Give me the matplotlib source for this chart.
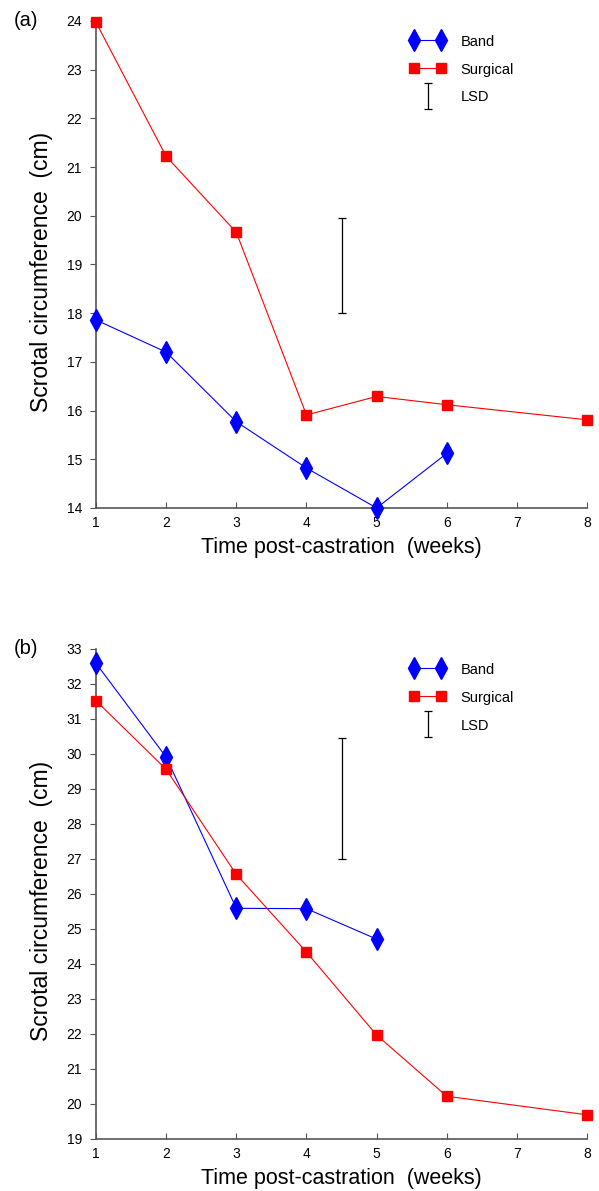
import matplotlib
matplotlib.use("Agg")
import matplotlib.pyplot as plt
from matplotlib.lines import Line2D
from matplotlib.legend_handler import HandlerErrorbar

plt.rcParams['font.family'] = ['Liberation Sans', 'DejaVu Sans']

# panel (a)
weeks_band_a = [1, 2, 3, 4, 5, 6]
band_a = [17.86, 17.20, 15.77, 14.82, 14.00, 15.12]
weeks_surg_a = [1, 2, 3, 4, 5, 6, 8]
surg_a = [23.97, 21.22, 19.66, 15.91, 16.29, 16.12, 15.81]
lsd_a = [18.0, 19.95]

# panel (b)
weeks_band_b = [1, 2, 3, 4, 5]
band_b = [32.59, 29.91, 25.59, 25.58, 24.71]
weeks_surg_b = [1, 2, 3, 4, 5, 6, 8]
surg_b = [31.52, 29.56, 26.56, 24.34, 21.97, 20.22, 19.69]
lsd_b = [27.0, 30.47]

lsd_week = 4.5
xticks = [1, 2, 3, 4, 5, 6, 7, 8]

AXIS_GRAY = '#555555'


def draw_panel(ax, wb, band, ws, surg, lsd, ylim, tag):
    ax.plot(wb, band, color='#0000ff', lw=0.8, marker='d', ms=11,
            mec='#0000ff', clip_on=False, zorder=3)
    ax.plot(ws, surg, color='#ff0000', lw=0.8, marker='s', ms=6.5,
            mec='#ff0000', clip_on=False, zorder=3)
    mid = (lsd[0] + lsd[1]) / 2
    half = (lsd[1] - lsd[0]) / 2
    eb = ax.errorbar([lsd_week], [mid], yerr=[half], fmt='none', ecolor='black',
                     elinewidth=0.9, capsize=3, capthick=0.9, label='LSD')

    ax.set_xlim(1, 8)
    ax.set_ylim(*ylim)
    ax.set_xticks(xticks)
    ax.set_yticks(range(ylim[0], ylim[1] + 1))
    for s in ['top', 'right']:
        ax.spines[s].set_visible(False)
    for s in ['left', 'bottom']:
        ax.spines[s].set_color(AXIS_GRAY)
        ax.spines[s].set_linewidth(1.2)
    ax.tick_params(axis='x', direction='in', length=4, color=AXIS_GRAY,
                   labelsize=10, pad=6)
    ax.tick_params(axis='y', direction='out', length=4, color=AXIS_GRAY,
                   labelsize=10, pad=6)

    ax.set_xlabel('Time post-castration  (weeks)', fontsize=15.5, labelpad=5)
    ax.set_ylabel('Scrotal circumference  (cm)', fontsize=16.5)
    ax.yaxis.set_label_coords(-0.088, 0.485)

    h_band = Line2D([], [], color='#0000ff', lw=0.8, marker='d', ms=11)
    h_surg = Line2D([], [], color='#ff0000', lw=0.8, marker='s', ms=6.5)
    ax.legend([h_band, h_surg, eb], ['Band', 'Surgical', 'LSD'],
              loc='upper left', bbox_to_anchor=(0.638, 0.972),
              frameon=False, fontsize=10.5, numpoints=2,
              handlelength=2.5, handletextpad=1.0, labelspacing=0.9,
              handleheight=1.0, borderpad=0, borderaxespad=0,
              handler_map={eb: HandlerErrorbar(numpoints=1, yerr_size=0.9)})

    ax.text(-0.167, 1.0, tag, transform=ax.transAxes, fontsize=14.5,
            ha='left', va='center')


fig = plt.figure(figsize=(5.99, 11.91), dpi=100)
ax_a = fig.add_axes([0.1603, 0.5735, 0.8197, 0.4089])
ax_b = fig.add_axes([0.1603, 0.0437, 0.8197, 0.4114])

draw_panel(ax_a, weeks_band_a, band_a, weeks_surg_a, surg_a, lsd_a, (14, 24), '(a)')
draw_panel(ax_b, weeks_band_b, band_b, weeks_surg_b, surg_b, lsd_b, (19, 33), '(b)')

fig.savefig('out.png', dpi=100)
